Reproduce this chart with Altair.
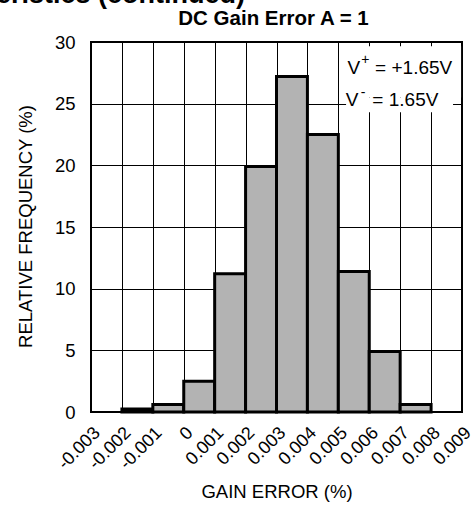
import altair as alt
import pandas as pd

# Histogram bins (gain error, %) and relative frequency (%)
bin_start = [-0.002, -0.001, 0.000, 0.001, 0.002, 0.003, 0.004, 0.005, 0.006, 0.007]
bin_end = [-0.001, 0.000, 0.001, 0.002, 0.003, 0.004, 0.005, 0.006, 0.007, 0.008]
rel_freq = [0.25, 0.6, 2.5, 11.2, 19.9, 27.2, 22.5, 11.4, 4.9, 0.6]

x_ticks = [-0.003, -0.002, -0.001, 0.000, 0.001, 0.002, 0.003,
           0.004, 0.005, 0.006, 0.007, 0.008, 0.009]
x_tick_labels = ["-0.003", "-0.002", "-0.001", "0", "0.001", "0.002", "0.003",
                 "0.004", "0.005", "0.006", "0.007", "0.008", "0.009"]
y_ticks = [0, 5, 10, 15, 20, 25, 30]

chart_title = "DC Gain Error A = 1"
header_text = "Characteristics (continued)"
x_title = "GAIN ERROR (%)"
y_title = "RELATIVE FREQUENCY (%)"

FONT = "Liberation Sans"
FS = 18.5
W, H = 371, 370

bars_df = pd.DataFrame({"start": bin_start, "end": bin_end, "freq": rel_freq})

label_list = "[" + ",".join("'" + s + "'" for s in x_tick_labels) + "]"
label_expr = label_list + "[round((datum.value + 0.003) * 1000)]"

x_scale = alt.Scale(domain=[-0.003, 0.009], nice=False, zero=False)
y_scale = alt.Scale(domain=[0, 30], nice=False)

x_axis = alt.Axis(
    values=x_ticks, labelExpr=label_expr, grid=True, gridColor="black",
    gridWidth=1, gridOpacity=1, ticks=False, domain=False,
    labelAngle=315, labelAlign="right", labelBaseline="middle",
    labelPadding=18, labelOffset=6, labelFlush=False, labelOverlap=False,
    labelFont=FONT, labelFontSize=18, labelColor="black",
    title=x_title, titleFont=FONT, titleFontSize=FS, titleFontWeight="normal",
    titleColor="black", titleY=70, titleBaseline="top", zindex=0,
)
y_axis = alt.Axis(
    values=y_ticks, grid=True, gridColor="black", gridWidth=1, gridOpacity=1,
    ticks=False, domain=False, labelPadding=16,
    labelFont=FONT, labelFontSize=FS, labelColor="black",
    title=y_title, titleFont=FONT, titleFontSize=FS, titleFontWeight="normal",
    titleColor="black", titleX=-60, titleY=H / 2 - 1, titleBaseline="alphabetic",
    zindex=0,
)


def xq(field):
    return alt.X(field, scale=x_scale, axis=x_axis)


def yq(field):
    return alt.Y(field, scale=y_scale, axis=y_axis)


bars = alt.Chart(bars_df).mark_rect(
    fill="#b3b3b3", stroke="black", strokeWidth=3
).encode(
    x=xq("start:Q"), x2="end:Q",
    y=yq("freq:Q"), y2=alt.datum(0),
)

# Supply-voltage note in the upper right corner
box_df = pd.DataFrame({
    "x": [0.00505, 0.00525], "x2": [0.00897, 0.00871],
    "y": [29.65, 25.5], "y2": [25.5, 24.3],
})
boxes = alt.Chart(box_df).mark_rect(fill="white").encode(
    x=xq("x:Q"), x2="x2:Q", y=yq("y:Q"), y2="y2:Q",
)

main_df = pd.DataFrame({
    "x": [0.00530, 0.00619, 0.00524, 0.00610],
    "y": [27.4, 27.4, 24.8, 24.8],
    "t": ["V", "= +1.65V", "V", "= 1.65V"],
})
main_text = alt.Chart(main_df).mark_text(
    font=FONT, fontSize=19, align="left", baseline="alphabetic", color="black"
).encode(x=xq("x:Q"), y=yq("y:Q"), text="t:N")

sup_df = pd.DataFrame({
    "x": [0.00587, 0.00580],
    "y": [28.55, 25.9],
    "t": ["+", "-"],
})
sup_text = alt.Chart(sup_df).mark_text(
    font=FONT, fontSize=14, align="center", baseline="middle", color="black"
).encode(x=xq("x:Q"), y=yq("y:Q"), text="t:N")

title_mark = alt.Chart(pd.DataFrame({"t": [chart_title]})).mark_text(
    font=FONT, fontSize=20.5, fontWeight="bold", align="center",
    baseline="alphabetic", color="black"
).encode(x=alt.value(W / 2 - 3), y=alt.value(-17), text="t:N")

header = alt.Chart(pd.DataFrame({"t": [header_text]})).mark_text(
    font=FONT, fontSize=27, fontWeight="bold", align="right",
    baseline="alphabetic", color="black"
).encode(x=alt.value(154), y=alt.value(-39), text="t:N")

chart = alt.layer(bars, boxes, main_text, sup_text, title_mark, header).properties(
    width=W, height=H,
    autosize=alt.AutoSizeParams(type="none"),
    padding={"left": 91, "top": 42, "right": 14, "bottom": 94},
    background="white",
).configure_view(stroke="black", strokeWidth=2)

chart.save("out.html", embed_options={"renderer": "svg", "actions": False})
